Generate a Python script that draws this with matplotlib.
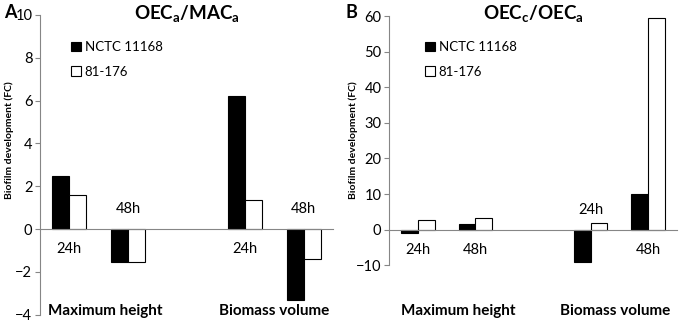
import matplotlib
matplotlib.use("Agg")
import matplotlib.pyplot as plt
import matplotlib.transforms as mtrans

plt.rcParams['font.family'] = ['Lato', 'DejaVu Sans']
plt.rcParams['mathtext.fontset'] = 'custom'
plt.rcParams['mathtext.rm'] = 'Lato'
plt.rcParams['mathtext.bf'] = 'Lato:bold'

# slot positions (slot 2 left empty as in the original)
slots = [0, 1, 3, 4]
time_labels = ["24h", "48h", "24h", "48h"]
groups = ["Maximum height", "Biomass volume"]
strains = ["NCTC 11168", "81-176"]

a_nctc = [2.5, -1.55, 6.2, -3.3]
a_81176 = [1.6, -1.55, 1.35, -1.4]
b_nctc = [-1.0, 1.6, -9.2, 10.0]
b_81176 = [2.7, 3.4, 2.0, 59.4]

a_side = [-1, 1, -1, 1]   # time label below (-1) or above (+1) axis
b_side = [-1, -1, 1, -1]

grey = "#868686"
W, H = 680, 322

fig = plt.figure(figsize=(6.8, 3.22), dpi=100)


def panel(rect, v1, v2, ylim, ticks, side, title, group_x, legend_xy):
    ax = fig.add_axes(rect)
    w = 0.29
    b1 = ax.bar([s - w / 2 for s in slots], v1, w, color="black", edgecolor="black", linewidth=0.8, label=strains[0])
    b2 = ax.bar([s + w / 2 for s in slots], v2, w, color="white", edgecolor="black", linewidth=0.8, label=strains[1])
    ax.set_xlim(-0.5, 4.5)
    ax.set_ylim(*ylim)
    ax.set_yticks(ticks)
    ax.tick_params(axis="y", length=3.5, color=grey, labelsize=10.5, pad=2)
    ax.set_xticks([])
    for s in ["top", "right"]:
        ax.spines[s].set_visible(False)
    ax.spines["left"].set_color(grey)
    ax.spines["bottom"].set_color(grey)
    ax.spines["bottom"].set_position(("data", 0))
    for s, lab, sd in zip(slots, time_labels, side):
        ax.annotate(lab, (s, 0), xytext=(0, 14.5 * sd), textcoords="offset points",
                    ha="center", va="center", fontsize=10.5)
    tr = mtrans.blended_transform_factory(ax.transData, fig.transFigure)
    for gx, g in zip(group_x, groups):
        ax.text(gx, 1 - 311 / H, g, transform=tr, ha="center", va="center",
                fontsize=11, fontweight="bold")
    ax.legend(handles=[b1, b2], loc="upper left", bbox_to_anchor=legend_xy,
              bbox_transform=fig.transFigure, frameon=False, fontsize=9.5,
              handlelength=0.75, handleheight=0.75, handletextpad=0.3,
              labelspacing=0.95, borderpad=0, borderaxespad=0)
    fig.text(rect[0] + rect[2] / 2, 1 - 14 / H, title, ha="center", va="center",
             fontsize=13.5, fontweight="bold")
    return ax


panel([40 / W, 1 - 314.6 / H, 293 / W, 299.6 / H], a_nctc, a_81176, (-4, 10),
      range(-4, 11, 2), a_side, r"OEC$_\mathbf{a}$/MAC$_\mathbf{a}$",
      [0.61, 3.5], (71 / W, 1 - 41 / H))
panel([389 / W, 1 - 265.3 / H, 288 / W, 249.3 / H], b_nctc, b_81176, (-10, 60),
      range(-10, 61, 10), b_side, r"OEC$_\mathbf{c}$/OEC$_\mathbf{a}$",
      [0.7, 3.42], (425 / W, 1 - 41 / H))

fig.text(10 / W, 1 - 12 / H, "A", fontsize=13, fontweight="bold", ha="center", va="center")
fig.text(351 / W, 1 - 12 / H, "B", fontsize=13, fontweight="bold", ha="center", va="center")
for x in (4, 348):
    fig.text(x / W, 1 - 199 / H, "Biofilm development (FC)", rotation=90, fontsize=7.5,
             fontweight="bold", ha="left", va="bottom")

fig.savefig("out.png", dpi=100)
